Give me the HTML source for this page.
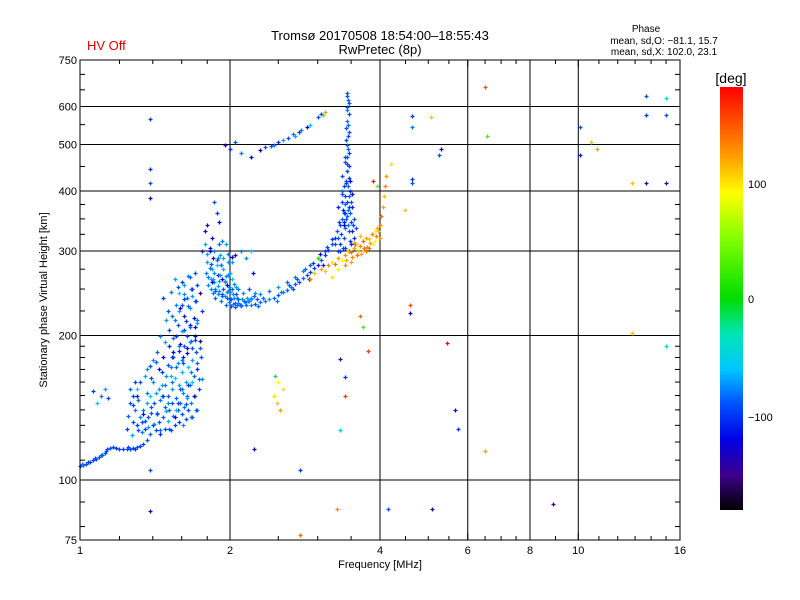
<!DOCTYPE html>
<html><head><meta charset="utf-8">
<style>
html,body{margin:0;padding:0;background:#fff;}
svg{display:block;font-family:"Liberation Sans",sans-serif;}
</style></head>
<body>
<svg id="chart" width="800" height="600" viewBox="0 0 800 600">
<text x="87" y="50" fill="#e00000" font-size="13">HV Off</text>
<text x="380" y="40" text-anchor="middle" font-size="13">Tromsø 20170508 18:54:00–18:55:43</text>
<text x="380" y="54" text-anchor="middle" font-size="13">RwPretec (8p)</text>
<g font-size="10" text-anchor="middle">
<text x="646" y="32">Phase</text>
<text x="664" y="44">mean, sd,O: −81.1, 15.7</text>
<text x="664" y="55">mean, sd,X: 102.0, 23.1</text>
</g>
<g id="grid"></g>
<g id="points"></g>
<rect x="80" y="60" width="600" height="480" fill="none" stroke="#000" stroke-width="1"/>
<g id="ticks"></g>
<g id="xlabels" font-size="11" text-anchor="middle"></g>
<g id="ylabels" font-size="11" text-anchor="end"></g>
<text x="380" y="568" text-anchor="middle" font-size="11">Frequency [MHz]</text>
<text transform="translate(47,300) rotate(-90)" text-anchor="middle" font-size="11">Stationary phase Virtual Height [km]</text>
<defs>
<linearGradient id="cbar" x1="0" y1="0" x2="0" y2="1">
<stop offset="0" stop-color="#ff0000"/>
<stop offset="0.083" stop-color="#ff5000"/>
<stop offset="0.167" stop-color="#ffa000"/>
<stop offset="0.25" stop-color="#ffff00"/>
<stop offset="0.361" stop-color="#80ff00"/>
<stop offset="0.5" stop-color="#00dd00"/>
<stop offset="0.583" stop-color="#00e6b4"/>
<stop offset="0.667" stop-color="#00c8ff"/>
<stop offset="0.75" stop-color="#0050ff"/>
<stop offset="0.833" stop-color="#0000e6"/>
<stop offset="0.917" stop-color="#3c008c"/>
<stop offset="1" stop-color="#000000"/>
</linearGradient>
</defs>
<rect x="720" y="87" width="23" height="423" fill="url(#cbar)"/>
<text x="731" y="83" text-anchor="middle" font-size="14">[deg]</text>
<g font-size="11">
<text x="748" y="188">100</text>
<text x="748" y="303">0</text>
<text x="748" y="421">−100</text>
</g>
</svg>
<script>
// ---- data ----
const lowFreq=[1.0,1.015,1.03,1.045,1.06,1.075,1.09,1.105,1.12,1.135,1.15,1.165,1.18,1.2,1.22,1.24,1.26,1.28,1.3,1.32,1.34,1.36,1.1,1.12,1.14,1.08,1.06,1.01,1.04,1.07,1.1,1.13,1.25,1.29];
const lowHeight=[107,107.5,108,109,110,110.5,111.5,112.5,114,116,116.5,117,116.5,116,116,116,116,116.5,117,118,119,121,150,155,148,145,153,108,109,111,113,115,117,116];
const lowPhase=[-95,-90,-95,-92,-98,-90,-95,-100,-92,-95,-90,-95,-100,-92,-95,-90,-98,-95,-92,-100,-95,-90,-80,-70,-95,-60,-100,-80,-100,-95,-85,-90,-95,-100];

const cloudFreq=[1.33,1.34,1.35,1.36,1.37,1.38,1.38,1.39,1.40,1.40,1.41,1.42,1.42,1.43,1.44,1.44,1.45,1.45,1.46,1.47,1.47,1.48,1.48,1.49,1.50,1.50,1.51,1.51,1.52,1.52,1.53,1.53,1.54,1.54,1.55,1.55,1.56,1.56,1.57,1.57,1.58,1.58,1.59,1.59,1.60,1.60,1.61,1.61,1.62,1.62,1.63,1.63,1.64,1.64,1.65,1.65,1.66,1.66,1.67,1.67,1.68,1.68,1.69,1.70,1.70,1.71,1.72,1.72,1.73,1.74,1.75,1.76,1.55,1.58,1.60,1.62,1.64,1.66,1.68,1.70,1.72,1.74,1.76,1.62,1.66,1.58,1.46,1.50,1.56,1.60,1.64,1.68,1.72];
const cloudHeight=[132,140,128,145,135,125,150,138,130,160,145,127,152,138,170,132,147,125,158,135,180,142,128,165,150,133,190,140,172,127,155,145,185,136,163,130,200,148,175,140,158,132,192,145,168,137,180,152,205,142,160,134,188,150,172,140,210,158,195,145,178,135,165,200,150,185,170,140,155,195,180,162,215,225,232,220,240,228,250,236,215,245,225,255,265,245,150,145,140,155,148,160,175];
const cloudPhase=[-90,-80,-100,-70,-95,-85,-60,-90,-110,-75,-90,-95,-70,-85,-120,-90,-80,-100,-70,-90,-130,-85,-95,-75,-90,-65,-110,-85,-80,-95,-70,-90,-120,-80,-60,-95,-100,-85,-75,-90,-70,-100,-130,-85,-65,-90,-110,-75,-95,-80,-70,-90,-140,-85,-60,-95,-120,-75,-90,-80,-70,-100,-85,-130,-70,-90,-110,-80,-95,-140,-90,-75,-80,-70,-90,-110,-85,-75,-130,-90,-80,-140,-100,-70,-85,-60,-70,-75,-65,-80,-70,-60,-85];

const cloud2Freq=[1.24,1.25,1.26,1.27,1.28,1.29,1.30,1.31,1.32,1.26,1.28,1.30,1.33,1.35,1.37,1.29,1.31,1.34,1.36,1.39,1.41,1.43,1.45,1.47,1.49,1.51,1.53,1.55,1.57,1.59,1.61,1.63,1.65,1.67,1.69,1.71,1.73,1.36,1.39,1.42,1.44,1.46,1.48,1.50,1.52,1.54,1.56,1.58,1.60,1.62,1.64,1.66,1.68,1.70,1.45,1.48,1.51,1.54,1.57,1.60,1.63,1.66,1.69,1.72,1.50,1.53,1.56,1.59,1.62,1.65,1.68,1.71,1.47,1.52,1.57,1.62,1.67,1.72,1.55,1.60,1.65,1.70,1.43,1.40,1.38,1.35,1.32,1.30,1.28,1.58,1.64,1.70,1.74,1.49,1.53,1.61,1.67];
const cloud2Height=[128,136,145,124,132,140,150,127,135,155,143,130,126,133,129,160,147,137,152,142,131,137,127,150,139,128,160,135,145,155,130,144,158,135,150,140,162,170,163,176,155,168,158,174,165,180,172,186,178,190,184,194,188,196,200,194,205,198,210,204,214,208,218,212,225,220,232,228,238,230,242,236,240,246,252,244,250,255,262,258,266,270,185,178,173,165,160,155,150,190,200,208,188,215,180,175,168];
const cloud2Phase=[-100,-85,-90,-70,-95,-80,-110,-90,-75,-85,-95,-100,-80,-90,-70,-95,-85,-120,-80,-90,-75,-95,-85,-100,-70,-90,-80,-120,-95,-85,-75,-90,-100,-80,-130,-90,-85,-75,-95,-85,-70,-100,-80,-90,-65,-95,-85,-110,-80,-90,-130,-75,-90,-100,-80,-70,-95,-85,-90,-75,-100,-85,-120,-70,-90,-80,-75,-130,-95,-85,-70,-90,-100,-80,-90,-75,-85,-95,-70,-100,-80,-90,-85,-75,-95,-70,-90,-60,-95,-80,-90,-120,-85,-70,-100,-90,-80];

const bFreq=[1.80,1.81,1.82,1.83,1.84,1.85,1.86,1.87,1.88,1.89,1.90,1.91,1.92,1.93,1.94,1.95,1.96,1.97,1.98,1.99,2.00,2.01,2.02,2.03,2.04,2.05,2.06,2.07,2.08,2.10,2.12,2.14,2.16,2.18,2.20,2.22,2.25,1.84,1.80,1.88,1.93,1.78,1.86,1.90,1.96,2.10,2.05,2.15,2.20,1.92,1.98,2.02,1.87,1.95,2.00,2.08,1.83,1.89];
const bHeight=[285,265,300,250,275,290,258,240,280,268,248,295,236,262,275,242,232,255,285,235,246,230,262,233,240,229,252,231,238,232,245,235,240,250,238,270,245,320,340,360,315,330,380,345,310,300,295,290,300,280,268,285,250,258,238,234,262,244];
const bPhase=[-70,-80,-120,-75,-65,-130,-70,-85,-60,-110,-75,-70,-80,-140,-65,-75,-85,-120,-70,-80,-75,-90,-60,-80,-75,-85,-70,-80,-90,-85,-75,-80,-70,-90,-80,-120,-75,-130,-140,-100,-80,-130,-90,-120,-70,-80,-140,-75,-60,-110,-75,-70,-80,-75,-85,-80,-70,-75];

const b2Freq=[1.79,1.81,1.83,1.85,1.87,1.89,1.91,1.93,1.95,1.97,1.99,2.01,2.03,2.05,2.07,2.09,2.11,2.13,1.80,1.82,1.84,1.86,1.88,1.90,1.92,1.94,1.96,1.98,2.00,2.02,2.04,2.06,2.08,1.82,1.86,1.90,1.94,1.98,2.02,1.85,1.89,1.93,1.97,2.17,2.23,2.27,1.76,1.78];
const b2Height=[270,255,282,262,248,290,268,244,260,240,252,238,244,234,240,232,238,236,296,276,258,270,288,260,280,250,266,248,270,250,256,244,250,305,300,310,290,296,292,245,254,242,246,236,242,238,300,310];
const b2Phase=[-80,-75,-90,-70,-85,-80,-75,-90,-70,-85,-80,-90,-75,-85,-80,-90,-75,-85,-70,-80,-120,-75,-85,-70,-80,-90,-75,-80,-70,-85,-75,-90,-80,-130,-75,-85,-70,-80,-120,-80,-70,-85,-75,-80,-85,-90,-110,-70];

const uFreq=[2.1,2.15,2.2,2.25,2.3,2.35,2.4,2.45,2.5,2.55,2.6,2.65,2.7,2.75,2.8,2.85,2.9,2.95,3.0,3.05,3.1,3.15,3.2,3.25,2.2,2.3,2.4,2.5,2.6,2.7,2.8,2.9,3.0,3.1,3.2,2.28,2.48,2.68,2.88,3.08,2.18,2.33,2.53,2.73,2.93,3.13,2.63,2.83,3.03];
const uHeight=[230,231,232,233,235,236,238,240,243,246,249,252,256,259,263,267,271,276,281,287,294,301,310,320,240,244,248,252,258,265,272,280,290,300,318,230,236,250,262,280,236,240,247,262,283,306,255,275,296];
const uPhase=[-80,-85,-80,-90,-85,-80,-75,-85,-90,-80,-85,-80,-90,-95,-85,-90,-100,-95,-110,-90,-100,-95,-90,-100,-70,-75,-80,-70,-85,-80,-75,-90,-85,-95,-100,-85,-80,-90,-120,-110,-75,-85,-80,-90,-100,-95,-85,-90,-120];

const spikeFreq=[3.28,3.32,3.35,3.30,3.38,3.40,3.45,3.50,3.48,3.36,3.42,3.44,3.52,3.55,3.33,3.46,3.40,3.50,3.38,3.44,3.41,3.46,3.43,3.45,3.42,3.44,3.46,3.43,3.45,3.44,3.47,3.40,3.45,3.36,3.48,3.30,3.25,3.55,3.42,3.47,3.35,3.43,3.46,3.44,3.42,3.45,3.43,3.47,3.39,3.51,3.31,3.34,3.37,3.41,3.49,3.53,3.58,3.32,3.38,3.44,3.50,3.36,3.40,3.46,3.52,3.39,3.43,3.47,3.41,3.45,3.44,3.46,3.42,3.45,3.37,3.49,3.56,3.29];
const spikeHeight=[330,310,350,370,320,390,340,310,360,400,420,380,330,350,340,300,305,380,360,440,460,480,500,520,540,560,580,600,620,640,450,470,410,430,400,320,310,320,350,330,380,590,610,630,510,490,470,370,345,395,345,325,365,335,315,340,335,300,340,355,345,395,360,390,370,410,440,425,375,365,455,530,415,550,305,420,310,300];
const spikePhase=[-90,-100,-85,-110,-90,-95,-80,-100,-90,-85,-95,-100,-110,-90,-95,-85,-100,-90,-95,-80,-90,-100,-85,-95,-90,-80,-95,-90,-85,-90,-100,-95,-85,-90,-110,-90,-95,-100,-85,-90,-95,-80,-90,-90,-95,-85,-90,-100,-110,-120,-100,-90,-110,-85,-100,-95,-90,-100,-120,-85,-95,-90,-100,-85,-110,-95,-90,-100,-85,-80,-95,-90,-100,-85,-95,-120,-90,-100];

const xFreq=[3.05,3.1,3.15,3.2,3.25,3.3,3.35,3.4,3.45,3.5,3.55,3.6,3.65,3.7,3.75,3.8,3.85,3.9,3.95,4.0,4.02,4.05,4.08,4.1,4.12,3.6,3.7,3.3,3.4,3.5,3.8,3.9,2.95,3.0,2.9,3.2,4.0,3.75,3.65,3.55,3.42,3.52,3.62,3.72,3.82,3.92,3.97,3.87,3.77,3.67];
const xHeight=[275,272,280,285,282,290,288,295,300,298,305,310,308,315,320,318,325,330,335,340,355,370,390,410,430,295,300,275,280,285,305,315,270,290,262,265,320,300,322,312,288,292,300,305,312,322,330,310,306,296];
const xPhase=[120,110,130,100,140,120,90,130,110,140,120,100,130,140,120,110,130,90,120,130,140,120,110,130,120,140,100,80,130,120,140,90,110,20,130,100,120,140,110,130,120,130,110,140,120,130,110,90,130,120];

const upFreq=[2.0,2.05,2.1,2.2,2.3,2.35,2.45,2.5,2.55,2.62,2.68,2.75,2.85,2.9,3.0,3.05,3.1,2.7,1.95,2.42,2.78,3.08];
const upHeight=[490,505,480,470,488,495,500,505,512,515,525,530,545,550,570,580,585,520,500,497,535,575];
const upPhase=[-100,-90,-80,-120,-130,-90,-80,-100,-70,-90,-80,-100,-130,-60,-90,-100,120,-70,-140,-90,-80,30];

const outFreq=[1.38,1.38,1.38,1.38,1.38,1.38,2.23,2.45,2.48,2.5,2.52,2.55,2.46,2.76,2.76,3.28,3.33,3.40,3.40,3.33,3.64,3.70,3.78,4.15,4.6,4.6,4.63,4.63,4.63,4.63,5.06,5.08,5.25,5.45,5.3,5.66,5.74,6.5,6.55,6.5,8.9,10.1,10.1,10.6,10.9,12.8,12.8,13.7,13.7,13.7,15,15,15,15,4.2,4.5,3.88,3.95];
const outHeight=[565,445,415,387,105,86,116,150,145,160,140,155,165,105,77,87,179,164,150,127,220,208,186,87,231,223,574,545,424,415,570,87,475,193,490,140,128,660,520,115,89,545,475,505,490,415,202,630,575,415,575,415,190,625,455,365,420,410];
const outPhase=[-100,-100,-90,-130,-90,-130,-130,100,110,90,120,100,-20,-100,140,130,-150,-100,160,-50,140,30,160,-90,150,-140,-100,-80,-100,-90,110,-150,-90,180,-130,-130,-100,150,30,120,-150,-90,-110,110,120,110,110,-90,-100,-150,-90,-150,-40,-30,100,110,170,40];

// ---- axes ----
const X0=80,X1=680,Y0=540,Y1=60;
function xScale(f){return X0+(X1-X0)*Math.log2(f)/4;}
function yScale(h){return Y0-(Y0-Y1)*Math.log10(h/75)/Math.log10(10);}

const cStops=[[-180,0,0,0],[-150,60,0,140],[-120,0,0,230],[-90,0,80,255],[-60,0,200,255],[-30,0,230,180],[0,0,221,0],[50,128,255,0],[90,255,255,0],[120,255,160,0],[150,255,80,0],[180,255,0,0]];
function color(p){
  p=Math.max(-180,Math.min(180,p));
  for(let i=1;i<cStops.length;i++){
    if(p<=cStops[i][0]){const a=cStops[i-1],b=cStops[i],t=(p-a[0])/(b[0]-a[0]);
      return 'rgb('+[1,2,3].map(k=>Math.round(a[k]+(b[k]-a[k])*t)).join(',')+')';}
  }
  return 'rgb(255,0,0)';
}
const NS='http://www.w3.org/2000/svg';
function mk(tag,attrs,parent){const e=document.createElementNS(NS,tag);for(const k in attrs)e.setAttribute(k,attrs[k]);parent.appendChild(e);return e;}

const grid=document.getElementById('grid');
const gridF=[2,4,6,8,10];
const gridH=[100,200,300,400,500,600];
gridF.forEach(f=>{const l=mk('line',{x1:xScale(f),x2:xScale(f),y1:Y1,y2:Y0,stroke:'#000','stroke-width':1},grid);

});
gridH.forEach(h=>{const l=mk('line',{x1:X0,x2:X1,y1:yScale(h),y2:yScale(h),stroke:'#000','stroke-width':1},grid);

});

const ticks=document.getElementById('ticks');
const minorF=[1.2,1.4,1.6,1.8,2.5,3,3.5,4.5,5,5.5,6.5,7,7.5,9,11,12,13,14,15];
const majorF=[1,2,4,6,8,10,16];
const minorH=[80,90,110,120,130,140,150,160,170,180,190,225,250,275,325,350,375,450,550,650,700];
minorF.concat(majorF).forEach(f=>{const x=xScale(f),len=majorF.includes(f)?7:4;
  const a=mk('line',{x1:x,x2:x,y1:Y0,y2:Y0-len,stroke:'#000'},ticks);
  
  
  const b=mk('line',{x1:x,x2:x,y1:Y1,y2:Y1+len,stroke:'#000'},ticks);
  
  });
minorH.forEach(h=>{const y=yScale(h);
  const a=mk('line',{x1:X0,x2:X0+5,y1:y,y2:y,stroke:'#000'},ticks);
  
  
  const b=mk('line',{x1:X1,x2:X1-5,y1:y,y2:y,stroke:'#000'},ticks);
  
  });

const xLabels=['1','2','4','6','8','10','16'];
const yLabelVals=[750,600,500,400,300,200,100,75];
const xl=document.getElementById('xlabels');
majorF.forEach((f,i)=>{const t=mk('text',{x:xScale(f),y:554},xl);t.textContent=xLabels[i];

});
const yl=document.getElementById('ylabels');
yLabelVals.forEach(h=>{const t=mk('text',{x:77,y:yScale(h)+4},yl);t.textContent=String(h);

});

const pts=document.getElementById('points');
const groups=[[lowFreq,lowHeight,lowPhase,'lower-trace'],[cloudFreq,cloudHeight,cloudPhase,'e-cloud'],[cloud2Freq,cloud2Height,cloud2Phase,'e-cloud'],[bFreq,bHeight,bPhase,'f-cloud'],[b2Freq,b2Height,b2Phase,'f-cloud'],[uFreq,uHeight,uPhase,'o-trace'],[spikeFreq,spikeHeight,spikePhase,'o-cusp'],[xFreq,xHeight,xPhase,'x-trace'],[upFreq,upHeight,upPhase,'upper-trace'],[outFreq,outHeight,outPhase,'scatter']];
groups.forEach(g=>{
  const [F,H,P,name]=g;
  F.forEach((f,i)=>{
    const x=Math.round(xScale(f))+0.5,y=Math.round(yScale(H[i]))+0.5;
    const p=mk('path',{d:'M'+(x-2)+' '+y+'H'+(x+2)+'M'+x+' '+(y-2)+'V'+(y+2),stroke:color(P[i]),'stroke-width':1.3,fill:'none'},pts);
    
    
  });
});
</script>
</body></html>
